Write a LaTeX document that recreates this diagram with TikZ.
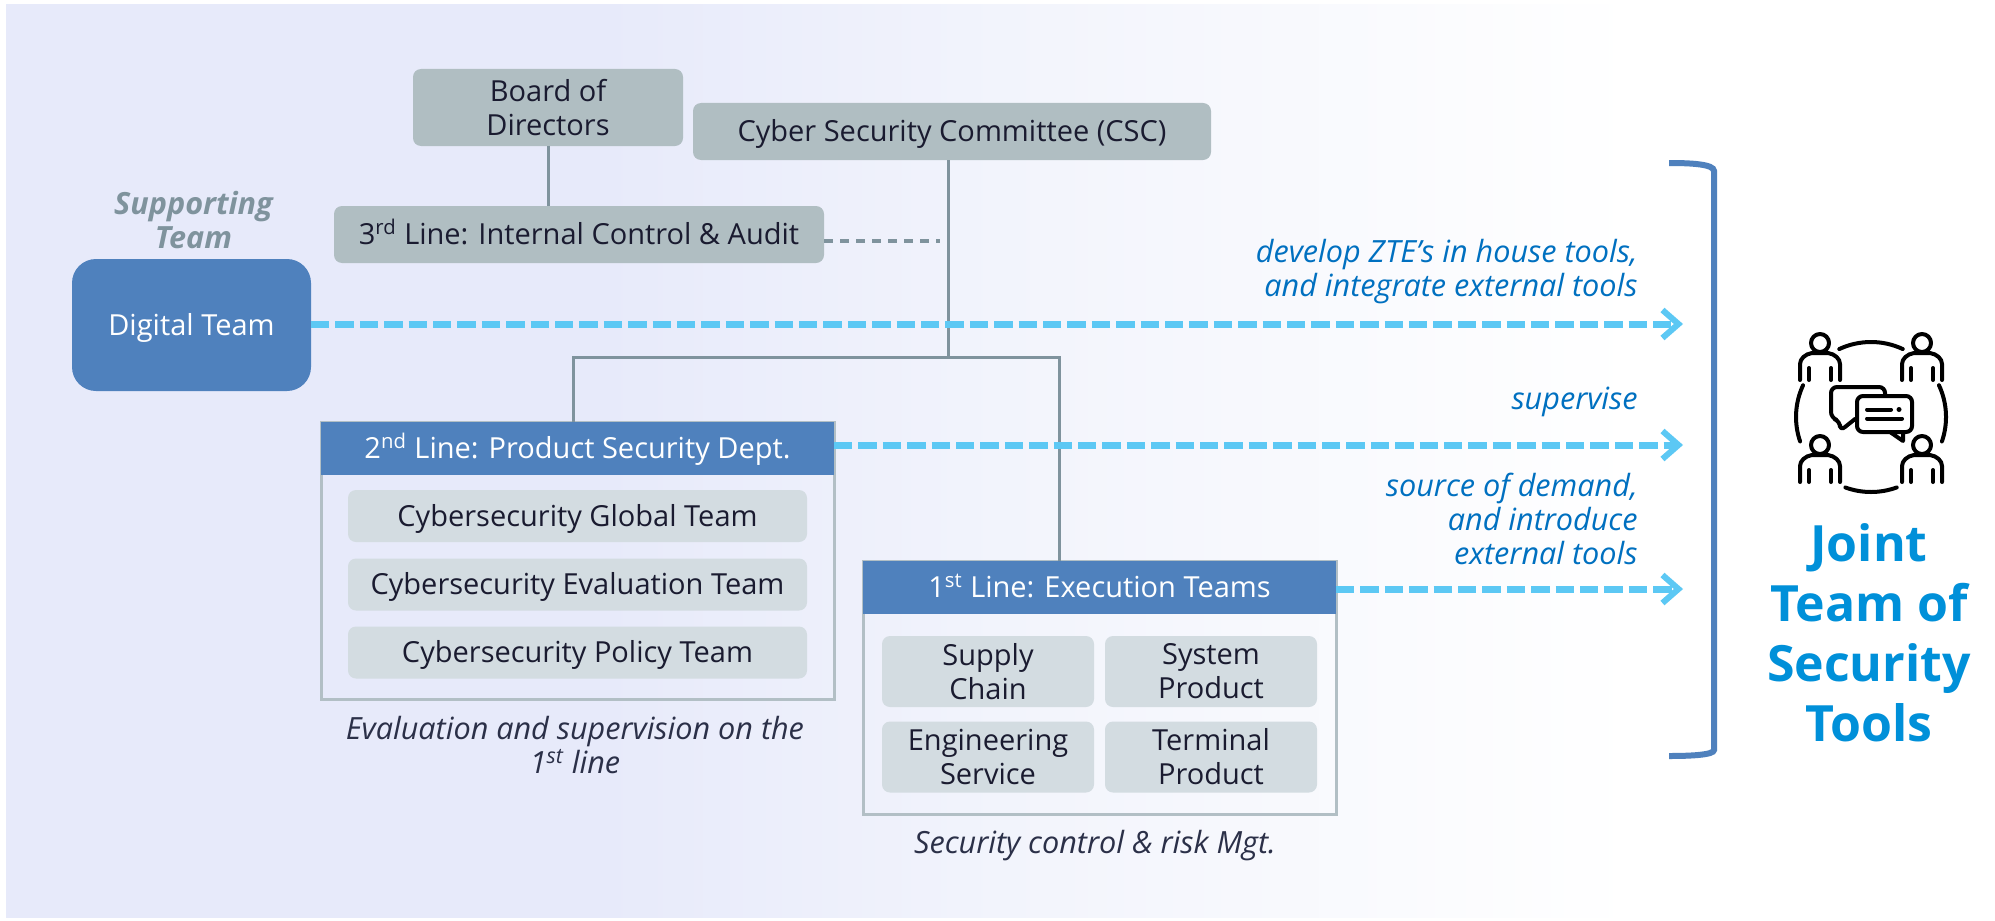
\documentclass[tikz,border=0pt]{standalone}
\usepackage{fontspec}
\setmainfont{Open Sans}
\usepackage[dvipsnames]{xcolor}
\usetikzlibrary{arrows.meta}
\definecolor{lavender}{HTML}{E7EAFA}
\definecolor{paleblue}{HTML}{F2F4FC}
\definecolor{greyfill}{HTML}{B0BEC2}
\definecolor{subfill}{HTML}{D3DCE1}
\definecolor{framegrey}{HTML}{B2BFC5}
\definecolor{linegrey}{HTML}{7F939D}
\definecolor{headblue}{HTML}{4F81BD}
\definecolor{dashblue}{HTML}{5CC8F4}
\definecolor{noteblue}{HTML}{0070C0}
\definecolor{titleblue}{HTML}{0090D9}
\definecolor{inkdark}{HTML}{1A1B30}
\definecolor{notedark}{HTML}{2B3048}
\pgfdeclarehorizontalshading{bgfade}{100bp}{color(0bp)=(lavender);color(25bp)=(lavender);color(40bp)=(lavender);color(50bp)=(paleblue);color(66bp)=(white);color(100bp)=(white)}
\tikzset{
    textfont/.style = {font=\fontsize{14.5}{17}\selectfont},
    oneline/.style = {text height=13pt,text depth=3pt},
    greybox/.style = {rectangle,rounded corners=4pt,fill=greyfill,text=inkdark,align=center,textfont,inner sep=0pt,outer sep=0pt},
    headbar/.style = {rectangle,fill=headblue,text=white,align=center,textfont,oneline,inner sep=0pt,outer sep=0pt},
    frame/.style = {rectangle,draw=framegrey,line width=1.5pt,inner sep=0pt,outer sep=0pt},
    subbox/.style = {rectangle,rounded corners=4pt,fill=subfill,text=inkdark,align=center,textfont,inner sep=0pt,outer sep=0pt},
    note/.style = {text=noteblue,align=right,anchor=east,inner sep=0pt,font=\fontsize{15.3}{17}\selectfont\itshape},
    caption/.style = {text=notedark,align=center,inner sep=0pt,font=\fontsize{15.3}{17}\selectfont\itshape},
    orgline/.style = {draw=linegrey,line width=1.5pt},
    dasharrow/.style = {draw=dashblue,line width=3.5pt,dash pattern=on 9.2pt off 3pt,-{Straight Barb[length=8pt,width=14pt,line width=3pt]}},
    iconline/.style = {draw=black,line width=2pt,line cap=round,line join=round},
    person/.pic = {
        \draw [iconline] (0,-11) circle (9);
        \draw [iconline] (-20,26) -- (-20,10) .. controls (-20,5) and (-15,0) .. (-8,-1) -- (8,-1) .. controls (15,0) and (20,5) .. (20,10) -- (20,26);
        \draw [iconline] (-11,14) -- (-11,26);
        \draw [iconline] (11,14) -- (11,26);
    }
}

\begin{document}
\begin{tikzpicture}[x=0.5pt,y=-0.5pt]
                \useasboundingbox (0,0) rectangle (1995,920);
                \shade [shading=bgfade] (6,5) rectangle (1995,917);

                \node [greybox,minimum width=135pt,minimum height=38.5pt] (board) at (548,107.5) {Board of\\Directors};
                \node [greybox,oneline,minimum width=259pt,minimum height=28.5pt] (csc) at (952,131.5) {Cyber Security Committee (CSC)};
                \node [greybox,oneline,minimum width=245pt,minimum height=28.5pt] (third) at (579,234.5) {3\textsuperscript{rd} Line: Internal Control \& Audit};
                \node [text=linegrey,align=center,inner sep=0pt,font=\fontsize{15.3}{17}\selectfont\bfseries\itshape] (support) at (193.5,220) {Supporting\\Team};
                \node [rectangle,rounded corners=12pt,fill=headblue,text=white,textfont,oneline,inner sep=0pt,outer sep=0pt,minimum width=119.5pt,minimum height=66pt] (digital) at (191.5,325) {Digital Team};

                \node [frame,minimum width=256.5pt,minimum height=138.5pt] (secondframe) at (577.5,560.5) {};
                \node [headbar,minimum width=256.5pt,minimum height=26.5pt] (secondhead) at (577.5,448.5) {2\textsuperscript{nd} Line: Product Security Dept.};
                \node [subbox,oneline,minimum width=229.5pt,minimum height=26pt] (global) at (577.5,516) {Cybersecurity Global Team};
                \node [subbox,oneline,minimum width=229.5pt,minimum height=26pt] (evaluation) at (577.5,584.5) {Cybersecurity Evaluation Team};
                \node [subbox,oneline,minimum width=229.5pt,minimum height=26pt] (policy) at (577.5,652.5) {Cybersecurity Policy Team};
                \node [caption] (secondnote) at (575,745) {Evaluation and supervision on the\\1\textsuperscript{st} line};

                \node [frame,minimum width=236.5pt,minimum height=126.5pt] (firstframe) at (1099.5,687.5) {};
                \node [headbar,minimum width=236.5pt,minimum height=26.5pt] (firsthead) at (1099.5,587.5) {1\textsuperscript{st} Line: Execution Teams};
                \node [subbox,minimum width=106pt,minimum height=35.5pt] (supply) at (988,671.5) {Supply\\Chain};
                \node [subbox,minimum width=106pt,minimum height=35.5pt] (system) at (1211,671.5) {System\\Product};
                \node [subbox,minimum width=106pt,minimum height=35.5pt] (engineering) at (988,757) {Engineering\\Service};
                \node [subbox,minimum width=106pt,minimum height=35.5pt] (terminal) at (1211,757) {Terminal\\Product};
                \node [caption] (firstnote) at (1095,846) {Security control \& risk Mgt.};

                \coordinate (branch) at (948,357);
                \coordinate (branchleft) at (573,357);
                \coordinate (branchright) at (1059,357);
                \coordinate (auditend) at (940,241);
                \draw [orgline] (board) -- (third.north -| board);
                \draw [orgline] (csc.south -| branch) -- (branch);
                \draw [orgline] (secondhead.north -| branchleft) -- (branchleft) -- (branchright) -- (firsthead.north -| branchright);
                \draw [draw=linegrey,line width=1.6pt,dash pattern=on 4.5pt off 3.5pt] (third.east |- auditend) -- (auditend);

                \coordinate (tipa) at (1683,324);
                \coordinate (tipb) at (1683,445);
                \coordinate (tipc) at (1683,589);
                \draw [dasharrow] (digital.east |- tipa) -- (tipa);
                \draw [dasharrow] (secondhead.east |- tipb) -- (tipb);
                \draw [dasharrow] (firsthead.east |- tipc) -- (tipc);

                \node [note] (develop) at (1638,272) {develop ZTE's in house tools,\\and integrate external tools};
                \node [note] (supervise) at (1638,402) {supervise};
                \node [note] (source) at (1638,519) {source of demand,\\and introduce\\external tools};

                \draw [draw=headblue,line width=3pt] (1669,163) .. controls (1690,163) and (1714,164) .. (1714,171) -- (1714,750) .. controls (1714,755) and (1690,756) .. (1669,756);

                \foreach \x in {1820,1922} {
                    \foreach \y in {354,456} {
                        \pic at (\x,\y) {person};
                    }
                }
                \coordinate (ring) at (1871,417);
                \draw [iconline] (ring) ++(-65:75) arc[start angle=-65,end angle=-115,radius=75];
                \draw [iconline] (ring) ++(70:75) arc[start angle=70,end angle=110,radius=75];
                \draw [iconline] (ring) ++(-155:75) arc[start angle=-155,end angle=-199,radius=75];
                \draw [iconline] (ring) ++(-25:75) arc[start angle=-25,end angle=19,radius=75];
                \draw [iconline,rounded corners=3pt] (1885,395) -- (1885,387) -- (1831,387) -- (1831,418) -- (1840,421) -- (1840,431) -- (1855,419);
                \draw [iconline,rounded corners=3pt] (1857,396) rectangle (1912,432);
                \draw [iconline] (1890,432) -- (1903,441) -- (1903,432);
                \draw [iconline] (1867,409.5) -- (1891,409.5);
                \draw [iconline] (1867,418.5) -- (1902,418.5);
                \fill (1899,409.5) circle (2.5);

                \node [text=titleblue,align=center,inner sep=0pt,font=\fontsize{25}{30}\selectfont\bfseries] (title) at (1869,633) {Joint\\Team of\\Security\\Tools};
            \end{tikzpicture}
\end{document}
